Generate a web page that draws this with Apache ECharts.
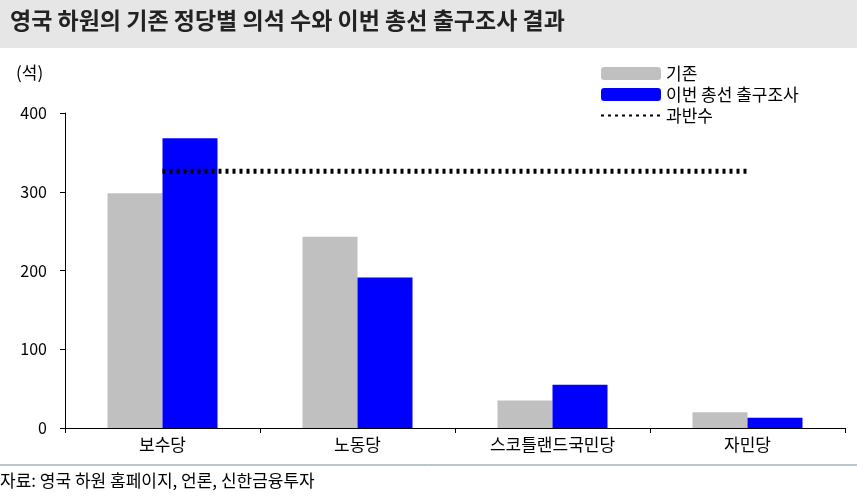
<!DOCTYPE html>
<html><head><meta charset="utf-8">
<script src="https://cdn.jsdelivr.net/npm/echarts@6/dist/echarts.min.js"></script>
<style>html,body{margin:0;padding:0;background:#fff}#c{width:857px;height:502px}</style>
</head><body><div id="c"></div>
<script>
const categories = ['보수당','노동당','스코틀랜드국민당','자민당'];
const existing = [298, 243, 35, 20];
const exitPoll = [368, 191, 55, 13];
const majority = [326, 326, 326, 326];
const yTicks = [0, 100, 200, 300, 400];
const font = '"Noto Sans CJK KR", sans-serif';
const chart = echarts.init(document.getElementById('c'));
chart.setOption({
  animation: false,
  textStyle: {fontFamily: font},
  graphic: [
    {type:'rect', shape:{x:0,y:0,width:857,height:48}, style:{fill:'#e6e6e6'}},
    {type:'text', left:10, top:9, style:{text:'영국 하원의 기존 정당별 의석 수와 이번 총선 출구조사 결과', font:'bold 23px '+font, fill:'#222'}},
    {type:'text', left:16, top:64, style:{text:'(석)', font:'17px '+font, fill:'#000'}},
    {type:'line', shape:{x1:0,y1:465,x2:857,y2:465}, style:{stroke:'#7a8aa0', lineWidth:1}},
    {type:'text', left:0, top:472, style:{text:'자료: 영국 하원 홈페이지, 언론, 신한금융투자', font:'17px '+font, fill:'#000'}}
  ],
  legend: {
    left: 595, top: 60, orient: 'vertical', itemGap: 4, itemWidth: 60, itemHeight: 13,
    textStyle: {fontSize: 17, color: '#000', fontFamily: font},
    data: ['기존','이번 총선 출구조사',{name:'과반수', itemStyle:{color:'rgba(0,0,0,0)', borderWidth:0}}]
  },
  grid: {left: 65, right: 12, top: 113, bottom: 74},
  xAxis: {
    type: 'category', data: categories,
    axisLine: {lineStyle: {color: '#000'}},
    axisTick: {show: true, inside: false, length: 5, lineStyle: {color: '#000'}},
    axisLabel: {color: '#000', fontSize: 17, margin: 8}
  },
  yAxis: {
    type: 'value', min: 0, max: 400, interval: 100,
    axisLine: {show: true, lineStyle: {color: '#000'}},
    axisTick: {show: true, length: 5, lineStyle: {color: '#000'}},
    splitLine: {show: false},
    axisLabel: {color: '#000', fontSize: 16, margin: 18}
  },
  series: [
    {name:'기존', type:'bar', data: existing, barWidth: 55, barGap: '0%', itemStyle:{color:'#c0c0c0'}},
    {name:'이번 총선 출구조사', type:'bar', data: exitPoll, barWidth: 55, itemStyle:{color:'#0000ff'}},
    {name:'과반수', type:'line', data: majority, symbol:'none', lineStyle:{color:'#000', width:5, type:[3,4]}, itemStyle:{color:'#000'}}
  ]
});
</script></body></html>
